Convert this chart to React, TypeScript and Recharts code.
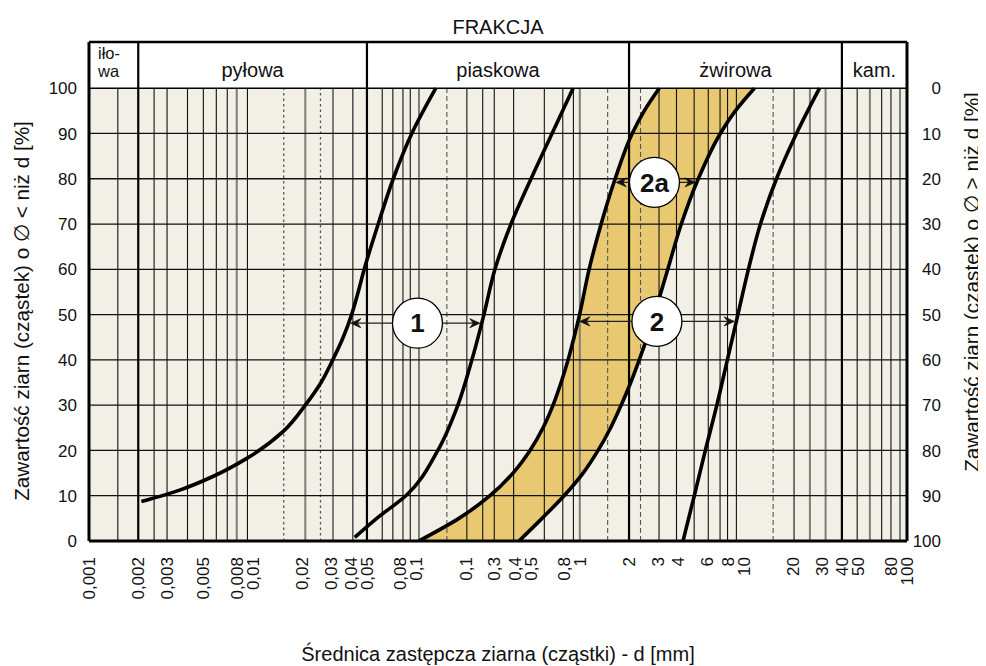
import React from 'react';
import {
  ComposedChart,
  Line,
  Area,
  XAxis,
  YAxis,
  ReferenceLine,
  ReferenceArea,
  ReferenceDot,
} from 'recharts';

const FONT = '"Liberation Sans", Arial, Helvetica, sans-serif';

// ---- axes ----
const X_TICKS = [0.001, 0.002, 0.003, 0.005, 0.008, 0.01, 0.02, 0.03, 0.04, 0.05, 0.08, 0.1, 0.2, 0.3, 0.4, 0.5, 0.8, 1, 2, 3, 4, 6, 8, 10, 20, 30, 40, 50, 80, 100];
const X_TICK_LABELS = ['0,001', '0,002', '0,003', '0,005', '0,008', '0,01', '0,02', '0,03', '0,04', '0,05', '0,08', '0,1', '0,1', '0,3', '0,4', '0,5', '0,8', '1', '2', '3', '4', '6', '8', '10', '20', '30', '40', '50', '80', '100'];
const Y_TICKS = [0, 10, 20, 30, 40, 50, 60, 70, 80, 90, 100];
const HEADER_TOP = 110.2;

const TITLE = 'FRAKCJA';
const X_TITLE = 'Średnica zastępcza ziarna (cząstki) - d [mm]';
const Y_TITLE_LEFT = 'Zawartość ziarn (cząstek) o ∅ < niż d [%]';
const Y_TITLE_RIGHT = 'Zawartość ziarn (cząstek) o ∅ > niż d [%]';

// ---- fractions (header) ----
const FRACTION_NAMES = ['iło-wa', 'pyłowa', 'piaskowa', 'żwirowa', 'kam.'];
const FRACTION_BOUNDS = [0.001, 0.002, 0.05, 2, 40, 100];

// ---- grid ----
const GRID_BLACK = [0.0015, 0.0025, 0.003, 0.004, 0.005, 0.006, 0.007, 0.0093, 0.041, 0.062, 0.072, 0.083, 0.092, 0.204, 0.255, 0.3, 0.394, 0.607, 0.787, 0.914, 3.05, 3.9, 5.0, 6.1, 7.2, 8.0, 9.06, 20.4, 49.6, 70, 79.8];
const GRID_GRAY = [0.008, 0.021, 0.031, 0.104, 1.0, 25.5, 31.8, 59.3, 90.6];
const GRID_DASHED = [0.154, 1.48, 2.35, 15.2];
const GRID_DOTTED = [0.0155, 0.026];
const GRID_PCT = [10, 20, 30, 40, 50, 60, 70, 80, 90];

// ---- grain size curves (p = % passing, d = diameter mm) ----
const CURVE_1L_P = [8.7, 11.3, 14.3, 18.3, 24.2, 30.1, 35, 40, 45, 50, 55, 60, 70, 80, 90, 100];
const CURVE_1L_D = [0.00209, 0.00362, 0.00576, 0.00927, 0.0154, 0.0211, 0.0262, 0.0309, 0.0358, 0.0403, 0.0442, 0.0481, 0.0586, 0.0724, 0.094, 0.1318];

const CURVE_1R_P = [0.8, 5, 10, 20, 30, 40, 50, 60, 70, 80, 90, 100];
const CURVE_1R_D = [0.0421, 0.0574, 0.0864, 0.1356, 0.1798, 0.219, 0.2594, 0.3029, 0.3796, 0.5033, 0.6768, 0.91];

const BAND_P = [0, 5, 10, 15, 20, 25, 30, 35, 40, 45, 50, 60, 70, 80, 90, 95, 100];
const CURVE_2A_L_D = [0.1037, 0.1824, 0.2823, 0.3904, 0.4962, 0.5962, 0.6864, 0.7683, 0.8479, 0.9228, 0.9972, 1.14, 1.35, 1.645, 2.091, 2.476, 3.059];
const CURVE_2A_R_D = [0.425, 0.5877, 0.8014, 1.0476, 1.2944, 1.544, 1.7899, 2.0475, 2.3075, 2.5836, 2.851, 3.45, 4.173, 5.302, 7.23, 8.933, 11.68];

const CURVE_2R_P = [0, 10, 20, 30, 40, 50, 60, 70, 80, 90, 100];
const CURVE_2R_D = [4.274, 5.01, 5.852, 6.881, 7.98, 9.255, 10.73, 12.71, 15.93, 21.12, 29.21];

// ---- markers ----
const MARK_LABELS = ['1', '2', '2a'];
const MARK_D = [0.1018, 2.96, 2.86];
const MARK_P = [48.1, 48.5, 79.2];
const MARK_LEFT_TIP = [0.0398, 1.0, 1.67];
const MARK_RIGHT_TIP = [0.245, 8.8, 5.07];

const toRows = (ps: number[], ds: number[]) => ps.map((p, i) => ({ p, d: ds[i] }));
const curve1L = toRows(CURVE_1L_P, CURVE_1L_D);
const curve1R = toRows(CURVE_1R_P, CURVE_1R_D);
const curve2R = toRows(CURVE_2R_P, CURVE_2R_D);
const bandRows = BAND_P.map((p, i) => ({
  p,
  r: [CURVE_2A_L_D[i], CURVE_2A_R_D[i]],
  lo: CURVE_2A_L_D[i],
  hi: CURVE_2A_R_D[i],
}));

const BG = '#f2f0e6';
const GOLD = '#e8c870';

const XTick = (props: any) => {
  const { x, y, payload, index } = props;
  let i = X_TICKS.indexOf(payload.value);
  if (i < 0) i = index;
  const yy = y + 8;
  return (
    <text
      x={x}
      y={yy}
      transform={`rotate(-90, ${x}, ${yy})`}
      textAnchor="end"
      dy="0.36em"
      fontSize={17}
      fontFamily={FONT}
      fill="#111"
    >
      {X_TICK_LABELS[i]}
    </text>
  );
};

const YTickLeft = (props: any) => {
  const { x, y, payload } = props;
  return (
    <text x={x - 4} y={y} dy="0.36em" textAnchor="end" fontSize={17} fontFamily={FONT} fill="#111">
      {payload.value}
    </text>
  );
};

const YTickRight = (props: any) => {
  const { x, y, payload } = props;
  return (
    <text x={x + 26} y={y} dy="0.36em" textAnchor="end" fontSize={17} fontFamily={FONT} fill="#111">
      {100 - payload.value}
    </text>
  );
};

const Arrow = (props: any) => {
  const { x1, y1, x2, y2 } = props;
  const dir = x2 > x1 ? 1 : -1;
  const head = `M${x2},${y2} L${x2 - dir * 10},${y2 - 4.5} L${x2 - dir * 6.5},${y2} L${x2 - dir * 10},${y2 + 4.5} Z`;
  return (
    <g>
      <line x1={x1} y1={y1} x2={x2 - dir * 6} y2={y2} stroke="#222" strokeWidth={1.2} />
      <path d={head} fill="#111" stroke="#111" strokeWidth={0.8} />
    </g>
  );
};

const headerLabel = (name: string) => (props: any) => {
  const vb = props.viewBox || {};
  if (name === 'iło-wa') {
    const x = vb.x + 9;
    return (
      <g>
        <text x={x} y={vb.y + 17} fontSize={16.5} fontFamily={FONT} fill="#111">iło-</text>
        <text x={x} y={vb.y + 35} fontSize={16.5} fontFamily={FONT} fill="#111">wa</text>
      </g>
    );
  }
  return (
    <text
      x={vb.x + vb.width / 2}
      y={vb.y + vb.height / 2 + 12}
      textAnchor="middle"
      fontSize={20}
      fontFamily={FONT}
      fill="#111"
    >
      {name}
    </text>
  );
};

const titleLabel = (props: any) => {
  const vb = props.viewBox || {};
  return (
    <text x={vb.x + vb.width / 2} y={vb.y - 8} textAnchor="middle" fontSize={20} fontFamily={FONT} fill="#111">
      {TITLE}
    </text>
  );
};

const xTitleLabel = (props: any) => {
  const vb = props.viewBox || {};
  return (
    <text x={vb.x + vb.width / 2} y={vb.y + 120} textAnchor="middle" fontSize={20} fontFamily={FONT} fill="#111">
      {X_TITLE}
    </text>
  );
};

const yTitleLeft = (props: any) => {
  const vb = props.viewBox || {};
  const cx = vb.x - 7;
  const cy = vb.y + 269;
  return (
    <text
      x={cx}
      y={cy}
      transform={`rotate(-90, ${cx}, ${cy})`}
      textAnchor="middle"
      dy="0.32em"
      fontSize={20.7}
      fontFamily={FONT}
      fill="#111"
    >
      {Y_TITLE_LEFT}
    </text>
  );
};

const yTitleRight = (props: any) => {
  const vb = props.viewBox || {};
  const cx = vb.x + 66;
  const cy = vb.y + 240;
  return (
    <text
      x={cx}
      y={cy}
      transform={`rotate(-90, ${cx}, ${cy})`}
      textAnchor="middle"
      dy="0.3em"
      fontSize={20.7}
      fontFamily={FONT}
      fill="#111"
    >
      {Y_TITLE_RIGHT}
    </text>
  );
};

export default function App() {
  return (
    <div style={{ fontFamily: FONT }}>
      <style>{'html,body{overflow:hidden}'}</style>
      <ComposedChart
        width={978}
        height={658}
        layout="vertical"
        margin={{ top: 34, right: 19, bottom: 15, left: 21 }}
      >
        <XAxis
          type="number"
          scale="log"
          domain={[0.001, 100]}
          allowDataOverflow
          ticks={X_TICKS}
          interval={0}
          tick={<XTick />}
          tickLine={false}
          axisLine={false}
          height={110}
          label={xTitleLabel}
        />
        <YAxis
          type="number"
          dataKey="p"
          reversed
          domain={[0, HEADER_TOP]}
          allowDataOverflow
          ticks={Y_TICKS}
          interval={0}
          tick={<YTickLeft />}
          tickLine={false}
          axisLine={false}
          width={60}
          label={yTitleLeft}
        />
        <YAxis
          yAxisId="right"
          orientation="right"
          type="number"
          dataKey="p"
          reversed
          domain={[0, HEADER_TOP]}
          allowDataOverflow
          ticks={Y_TICKS}
          interval={0}
          tick={<YTickRight />}
          tickLine={false}
          axisLine={false}
          width={60}
          label={yTitleRight}
        />

        {/* plot background */}
        <ReferenceArea x1={0.001} x2={100} y1={0} y2={100} fill={BG} fillOpacity={1} stroke="none" />

        {/* band 2a */}
        <Area
          data={bandRows}
          dataKey="r"
          type="monotone"
          fill={GOLD}
          fillOpacity={1}
          stroke="none"
          isAnimationActive={false}
          dot={false}
          activeDot={false}
        />

        {/* vertical grid */}
        {GRID_BLACK.map((v) => (
          <ReferenceLine key={'b' + v} segment={[{ x: v, y: 0 }, { x: v, y: 100 }]} stroke="#111" strokeWidth={1.1} />
        ))}
        {GRID_GRAY.map((v) => (
          <ReferenceLine key={'g' + v} segment={[{ x: v, y: 0 }, { x: v, y: 100 }]} stroke="#7c7c78" strokeWidth={2} />
        ))}
        {GRID_DASHED.map((v) => (
          <ReferenceLine key={'d' + v} segment={[{ x: v, y: 0 }, { x: v, y: 100 }]} stroke="#555" strokeWidth={1.1} strokeDasharray="5 3" />
        ))}
        {GRID_DOTTED.map((v) => (
          <ReferenceLine key={'o' + v} segment={[{ x: v, y: 0 }, { x: v, y: 100 }]} stroke="#555" strokeWidth={1.3} strokeDasharray="2.5 3" />
        ))}
        {/* horizontal grid */}
        {GRID_PCT.map((p) => (
          <ReferenceLine key={'h' + p} y={p} stroke="#111" strokeWidth={1.3} />
        ))}

        {/* header cells */}
        {FRACTION_NAMES.map((name, i) => (
          <ReferenceArea
            key={name}
            x1={FRACTION_BOUNDS[i]}
            x2={FRACTION_BOUNDS[i + 1]}
            y1={100}
            y2={HEADER_TOP}
            fill="#ffffff"
            fillOpacity={1}
            stroke="none"
            label={headerLabel(name)}
          />
        ))}
        <ReferenceLine y={100} stroke="#000" strokeWidth={1.6} />
        <ReferenceLine y={HEADER_TOP} stroke="#000" strokeWidth={2.6} label={titleLabel} />
        {FRACTION_BOUNDS.slice(1, -1).map((b) => (
          <ReferenceLine key={'fb' + b} x={b} stroke="#000" strokeWidth={2.2} />
        ))}
        <ReferenceLine x={0.001} stroke="#000" strokeWidth={3} />
        <ReferenceLine x={100} stroke="#000" strokeWidth={3} />
        <ReferenceLine y={0} stroke="#000" strokeWidth={3} />

        {/* curves */}
        <Line data={curve1L} dataKey="d" type="monotone" stroke="#000" strokeWidth={3.6} dot={false} activeDot={false} isAnimationActive={false} />
        <Line data={curve1R} dataKey="d" type="monotone" stroke="#000" strokeWidth={3.6} dot={false} activeDot={false} isAnimationActive={false} />
        <Line data={bandRows} dataKey="lo" type="monotone" stroke="#000" strokeWidth={3.6} dot={false} activeDot={false} isAnimationActive={false} />
        <Line data={bandRows} dataKey="hi" type="monotone" stroke="#000" strokeWidth={3.6} dot={false} activeDot={false} isAnimationActive={false} />
        <Line data={curve2R} dataKey="d" type="monotone" stroke="#000" strokeWidth={3.6} dot={false} activeDot={false} isAnimationActive={false} />

        {/* arrows */}
        {MARK_LABELS.map((m, i) => (
          <ReferenceLine
            key={'al' + m}
            segment={[{ x: MARK_D[i], y: MARK_P[i] }, { x: MARK_LEFT_TIP[i], y: MARK_P[i] }]}
            shape={Arrow}
          />
        ))}
        {MARK_LABELS.map((m, i) => (
          <ReferenceLine
            key={'ar' + m}
            segment={[{ x: MARK_D[i], y: MARK_P[i] }, { x: MARK_RIGHT_TIP[i], y: MARK_P[i] }]}
            shape={Arrow}
          />
        ))}
        {MARK_LABELS.map((m, i) => (
          <ReferenceDot
            key={'m' + m}
            x={MARK_D[i]}
            y={MARK_P[i]}
            r={25}
            fill="#fff"
            fillOpacity={1}
            stroke="#000"
            strokeWidth={1.3}
            label={{ value: m, position: 'center', fill: '#111', fontSize: 26, fontWeight: 700, fontFamily: FONT }}
          />
        ))}
      </ComposedChart>
    </div>
  );
}
